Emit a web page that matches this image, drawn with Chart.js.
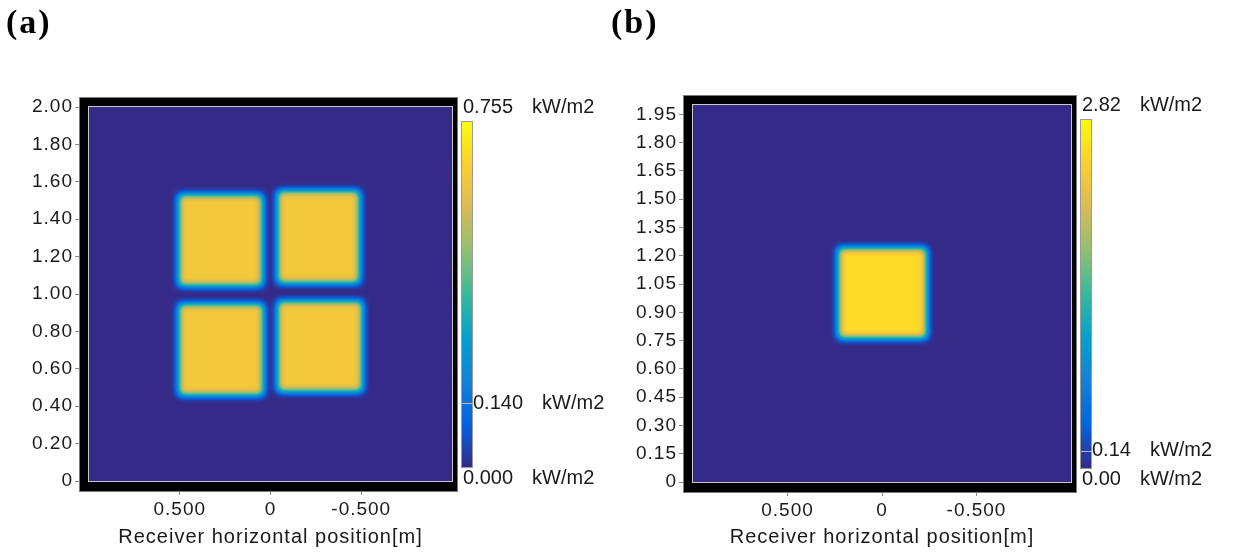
<!DOCTYPE html>
<html>
<head>
<meta charset="utf-8">
<script src="https://cdn.jsdelivr.net/npm/chart.js@4/dist/chart.umd.min.js"></script>
<style>
  body { margin: 0; background: #fff; width: 1235px; height: 556px; position: relative; overflow: hidden; }
  canvas { position: absolute; top: 0; }
  #chartA { left: 0; }
  #chartB { left: 605px; }
</style>
</head>
<body>
<canvas id="chartA" width="605" height="556"></canvas>
<canvas id="chartB" width="630" height="556"></canvas>
<script>
// ---- data ----
// shared x axis (receiver horizontal position, reversed)
var xTickValues = [0.5, 0, -0.5];
var xTickLabels = ['0.500', '0', '-0.500'];

// panel (a): four flux patches [m], flux [kW/m2]
var aXFrom = [0.505, -0.04, 0.505, -0.04];
var aXTo   = [0.045, -0.49, 0.040, -0.505];
var aYFrom = [1.045, 1.060, 0.460, 0.480];
var aYTo   = [1.530, 1.550, 0.945, 0.960];
var aFlux  = [0.635, 0.635, 0.635, 0.635];
var aYTicks = [0, 0.2, 0.4, 0.6, 0.8, 1.0, 1.2, 1.4, 1.6, 1.8, 2.0];
var aYLabels = ['0', '0.20', '0.40', '0.60', '0.80', '1.00', '1.20', '1.40', '1.60', '1.80', '2.00'];
var aBarValues = [0.000, 0.140, 0.755];
var aBarLabels = ['0.000', '0.140', '0.755'];

// panel (b): one flux patch
var bXFrom = [0.23];
var bXTo   = [-0.235];
var bYFrom = [0.765];
var bYTo   = [1.24];
var bFlux  = [2.55];
var bYTicks = [0, 0.15, 0.30, 0.45, 0.60, 0.75, 0.90, 1.05, 1.20, 1.35, 1.50, 1.65, 1.80, 1.95];
var bYLabels = ['0', '0.15', '0.30', '0.45', '0.60', '0.75', '0.90', '1.05', '1.20', '1.35', '1.50', '1.65', '1.80', '1.95'];
var bBarValues = [0.00, 0.14, 2.82];
var bBarLabels = ['0.00', '0.14', '2.82'];

var unitText = 'kW/m2';

// parula-like colour map stops
var cmapStops = [
  [0.000, 53, 42, 135],
  [0.125, 3, 99, 225],
  [0.250, 20, 129, 214],
  [0.375, 6, 160, 205],
  [0.500, 56, 185, 156],
  [0.625, 146, 191, 115],
  [0.750, 217, 186, 86],
  [0.875, 252, 207, 48],
  [1.000, 249, 251, 14]
];

var lut = [];
for (var i = 0; i < 256; i++) {
  var t = i / 255, k = 0;
  while (k < cmapStops.length - 2 && t > cmapStops[k + 1][0]) k++;
  var s0 = cmapStops[k], s1 = cmapStops[k + 1];
  var f = (t - s0[0]) / (s1[0] - s0[0]);
  lut.push([
    Math.round(s0[1] + (s1[1] - s0[1]) * f),
    Math.round(s0[2] + (s1[2] - s0[2]) * f),
    Math.round(s0[3] + (s1[3] - s0[3]) * f)
  ]);
}

function drawFluxMap(chart, p) {
  var ctx = chart.ctx, area = chart.chartArea;
  var xs = chart.scales.x, ys = chart.scales.y;
  var L = Math.round(area.left), T = Math.round(area.top);
  var w = Math.round(area.right) - L, h = Math.round(area.bottom) - T;
  var off = document.createElement('canvas');
  off.width = w; off.height = h;
  var o = off.getContext('2d');
  o.fillStyle = '#000';
  o.fillRect(0, 0, w, h);
  o.filter = 'blur(3.6px)';
  o.globalCompositeOperation = 'lighter';
  for (var i = 0; i < p.flux.length; i++) {
    var x0 = xs.getPixelForValue(p.xFrom[i]) - L, x1 = xs.getPixelForValue(p.xTo[i]) - L;
    var y0 = ys.getPixelForValue(p.yFrom[i]) - T, y1 = ys.getPixelForValue(p.yTo[i]) - T;
    var g = Math.round(255 * p.flux[i] / p.barValues[p.barValues.length - 1]);
    o.fillStyle = 'rgb(' + g + ',' + g + ',' + g + ')';
    o.fillRect(Math.min(x0, x1), Math.min(y0, y1), Math.abs(x1 - x0), Math.abs(y1 - y0));
  }
  var img = o.getImageData(0, 0, w, h), d = img.data;
  for (var j = 0; j < d.length; j += 4) {
    var c = lut[d[j]];
    d[j] = c[0]; d[j + 1] = c[1]; d[j + 2] = c[2]; d[j + 3] = 255;
  }
  ctx.putImageData(img, L, T);
}

function drawFrame(chart) {
  var ctx = chart.ctx, a = chart.chartArea;
  var L = a.left, R = a.right, T = a.top, B = a.bottom;
  ctx.save();
  ctx.fillStyle = '#000';
  ctx.fillRect(L - 9, T - 9, R - L + 14, 9);   // top
  ctx.fillRect(L - 9, B, R - L + 14, 10);      // bottom
  ctx.fillRect(L - 9, T - 9, 9, B - T + 19);   // left
  ctx.fillRect(R, T - 9, 5, B - T + 19);       // right
  ctx.strokeStyle = '#7a7a7a';
  ctx.lineWidth = 1;
  ctx.strokeRect(L - 9.5, T - 9.5, R - L + 15, B - T + 20);
  ctx.strokeStyle = '#c8c8c8';
  ctx.strokeRect(L - 0.5, T - 0.5, R - L + 1, B - T + 1);
  ctx.restore();
}

function drawColorBar(chart, p) {
  var ctx = chart.ctx, a = chart.chartArea;
  var bx = a.right + 10, bw = 10, top = a.top + 15, bot = a.bottom - 14;
  var vmax = p.barValues[p.barValues.length - 1];
  ctx.save();
  var grad = ctx.createLinearGradient(0, bot, 0, top);
  cmapStops.forEach(function (s) {
    grad.addColorStop(s[0], 'rgb(' + s[1] + ',' + s[2] + ',' + s[3] + ')');
  });
  ctx.fillStyle = grad;
  ctx.fillRect(bx, top, bw, bot - top);
  ctx.strokeStyle = '#9a9a9a';
  ctx.lineWidth = 1;
  ctx.strokeRect(bx - 0.5, top - 0.5, bw + 1, bot - top + 1);

  ctx.font = '20px "Liberation Sans", Arial, sans-serif';
  ctx.fillStyle = '#1a1a1a';
  ctx.textBaseline = 'middle';
  ctx.textAlign = 'left';
  p.barValues.forEach(function (v, i) {
    var tx, ty;
    if (i === 0) { tx = bx + 1; ty = bot + 11; }
    else if (i === p.barValues.length - 1) { tx = bx + 1; ty = top - 15; }
    else {
      ty = bot - (bot - top) * v / vmax;
      tx = bx + bw + 1;
      ctx.strokeStyle = '#b8b8c8';
      ctx.beginPath();
      ctx.moveTo(bx, Math.round(ty) + 0.5);
      ctx.lineTo(bx + bw + 1, Math.round(ty) + 0.5);
      ctx.stroke();
    }
    ctx.fillText(p.barLabels[i], tx, ty);
    var nw = ctx.measureText(p.barLabels[i]).width;
    ctx.fillText(unitText, tx + nw + 19, ty);
  });
  ctx.restore();
}

function buildChart(id, p) {
  var fluxPlugin = {
    id: 'fluxmap',
    beforeDraw: function (chart) {
      chart.ctx.letterSpacing = '1px';
    },
    beforeDatasetsDraw: function (chart) {
      drawFluxMap(chart, p);
    },
    afterDraw: function (chart) {
      drawFrame(chart);
      chart.ctx.letterSpacing = '0px';
      drawColorBar(chart, p);
      var ctx = chart.ctx;
      ctx.save();
      ctx.font = 'bold 34px "Liberation Serif", "Times New Roman", serif';
      ctx.letterSpacing = '2px';
      ctx.fillStyle = '#000';
      ctx.textBaseline = 'middle';
      ctx.fillText(p.tag, 6, 24);
      ctx.restore();
    }
  };

  return new Chart(document.getElementById(id), {
    type: 'scatter',
    data: { datasets: [{ data: [], pointRadius: 0 }] },
    options: {
      responsive: false,
      animation: false,
      events: [],
      layout: { padding: { left: 0, top: p.top, right: p.right, bottom: 0 } },
      plugins: { legend: { display: false }, tooltip: { enabled: false } },
      scales: {
        x: {
          type: 'linear', min: -1, max: 1, reverse: true,
          afterFit: function (s) { s.height = p.xHeight; },
          afterBuildTicks: function (s) {
            s.ticks = xTickValues.map(function (v) { return { value: v }; });
          },
          border: { display: false },
          grid: { drawOnChartArea: false, tickLength: 14, color: '#8a8a8a', tickWidth: 1 },
          ticks: {
            autoSkip: false, maxRotation: 0, padding: 3, color: '#1a1a1a',
            font: { family: '"Liberation Sans", Arial, sans-serif', size: 19 },
            callback: function (v, i) { return xTickLabels[i]; }
          },
          title: {
            display: true, text: 'Receiver horizontal position[m]', color: '#1a1a1a',
            font: { family: '"Liberation Sans", Arial, sans-serif', size: 20 },
            padding: { top: 0, bottom: 7 }
          }
        },
        y: {
          type: 'linear', min: 0, max: 2.0,
          afterFit: function (s) { s.width = p.yWidth; },
          afterBuildTicks: function (s) {
            s.ticks = p.yTicks.map(function (v) { return { value: v }; });
          },
          border: { display: false },
          grid: { drawOnChartArea: false, tickLength: 14, color: '#8a8a8a', tickWidth: 1 },
          ticks: {
            autoSkip: false, padding: 2, color: '#1a1a1a',
            font: { family: '"Liberation Sans", Arial, sans-serif', size: 19 },
            callback: function (v, i) { return p.yLabels[i]; }
          }
        }
      }
    },
    plugins: [fluxPlugin]
  });
}

buildChart('chartA', {
  tag: '(a)', top: 107, right: 153, xHeight: 75, yWidth: 89,
  xFrom: aXFrom, xTo: aXTo, yFrom: aYFrom, yTo: aYTo, flux: aFlux,
  yTicks: aYTicks, yLabels: aYLabels, barValues: aBarValues, barLabels: aBarLabels
});

buildChart('chartB', {
  tag: '(b)', top: 105, right: 164, xHeight: 74, yWidth: 88,
  xFrom: bXFrom, xTo: bXTo, yFrom: bYFrom, yTo: bYTo, flux: bFlux,
  yTicks: bYTicks, yLabels: bYLabels, barValues: bBarValues, barLabels: bBarLabels
});
</script>
</body>
</html>
